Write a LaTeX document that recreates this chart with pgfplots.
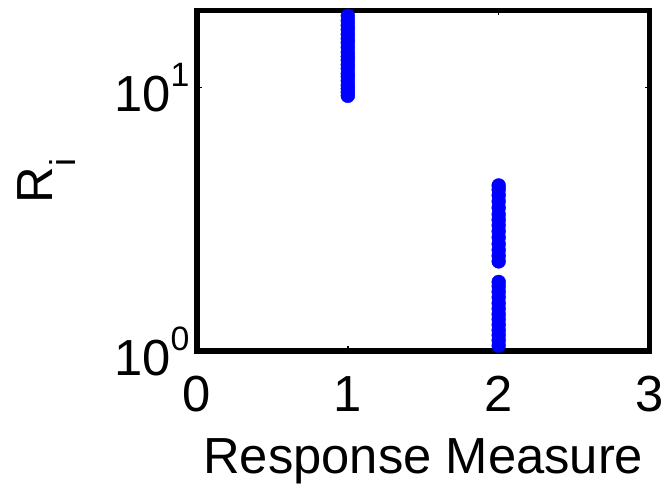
\documentclass[border=0pt]{standalone}
\usepackage{pgfplots}
\pgfplotsset{compat=1.18}
\usepackage{fontspec}
\setmainfont{Liberation Sans}
\newcommand{\bigfnt}{\fontsize{51}{60}\selectfont}
\newcommand{\supexp}[1]{\raisebox{0.5em}{\fontsize{34}{40}\selectfont #1}}
\begin{document}
\begin{tikzpicture}
\begin{axis}[
  scale only axis, width=455pt, height=342.5pt,
  at={(0,0)}, anchor=south west,
  ymode=log, xmin=0, xmax=3, ymin=1, ymax=19.6,
  xtick={0,1,2,3}, ytick={1,10},
  yticklabels={{10\supexp{0}},{10\supexp{1}}},
  minor ytick={}, 
  ticklabel style={font=\bigfnt},
  /pgf/number format/assume math mode=true,
  xticklabel style={yshift=-22pt},
  yticklabel style={xshift=-4pt},
  axis line style={line width=5.5pt},
  every tick/.style={black, line width=1.5pt},
  major tick length=5pt,
  tick align=inside,
  xlabel={Response Measure}, ylabel={R\raisebox{-0.45em}{\fontsize{36}{40}\selectfont i}},
  label style={font=\bigfnt},
  xlabel style={yshift=-19pt},
  ylabel style={yshift=32pt},
  clip=false,
]
\addplot[only marks, mark=*, mark size=7pt, color=blue, mark options={fill=blue, draw=blue}] coordinates {
(1,9.3) (1,9.6) (1,9.9) (1,10.2) (1,10.6) (1,11.0) (1,11.3) (1,11.8) (1,12.2) (1,12.7)
(1,13.1) (1,13.6) (1,14.2) (1,14.8) (1,15.3) (1,15.9) (1,16.6) (1,17.2) (1,17.9) (1,18.7)
(2,2.19) (2,2.30) (2,2.42) (2,2.55) (2,2.70) (2,2.85) (2,3.00) (2,3.15) (2,3.30) (2,3.50)
(2,3.70) (2,3.90) (2,4.10) (2,4.25)
(2,1.05) (2,1.10) (2,1.15) (2,1.20) (2,1.26) (2,1.32) (2,1.38) (2,1.45) (2,1.52) (2,1.60)
(2,1.68) (2,1.76) (2,1.83)
};
\end{axis}
\useasboundingbox (-198pt,-129pt) rectangle (469pt,353pt);
\end{tikzpicture}
\end{document}
